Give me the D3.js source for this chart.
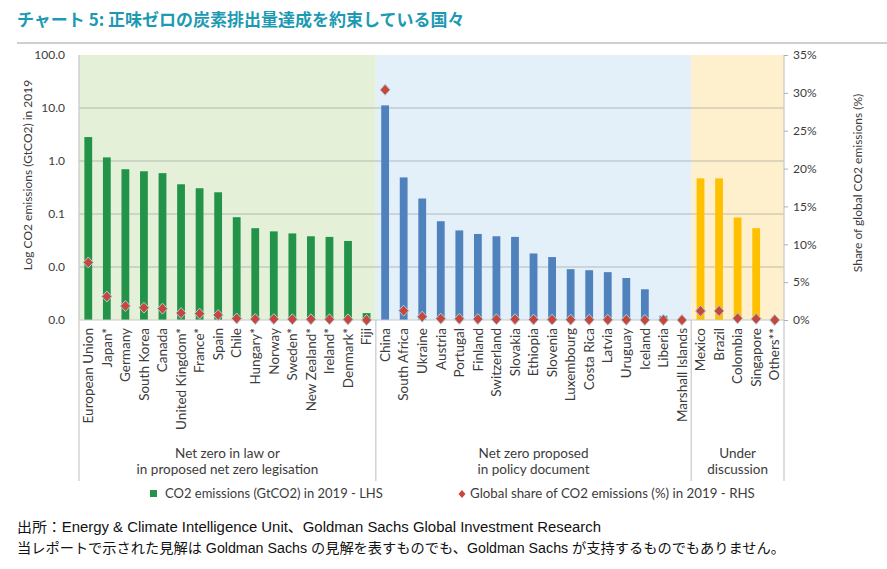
<!DOCTYPE html>
<html><head><meta charset="utf-8">
<script src="https://cdn.jsdelivr.net/npm/d3@7"></script>
<style>
body{margin:0;background:#fff;}
svg{display:block;}
text{font-family:Lato,"Noto Sans",sans-serif;fill:#3c3c3c;}
</style></head><body>
<svg id="c" width="887" height="569"></svg>
<script>
// ---------------- DATA ----------------
const titleText = "チャート 5: 正味ゼロの炭素排出量達成を約束している国々";
const countries1 = ["European Union","Japan*","Germany","South Korea","Canada","United Kingdom*","France*","Spain","Chile","Hungary*","Norway","Sweden*","New Zealand*","Ireland*","Denmark*","Fiji"];
const emissions1 = [2.83,1.17,0.70,0.64,0.59,0.364,0.306,0.257,0.087,0.054,0.047,0.043,0.038,0.037,0.031,0.00135];
const share1 = [7.6,3.1,1.85,1.63,1.5,0.92,0.84,0.66,0.2,0.13,0.12,0.1,0.1,0.1,0.08,0.0];

const countries2 = ["China","South Africa","Ukraine","Austria","Portugal","Finland","Switzerland","Slovakia","Ethiopia","Slovenia","Luxembourg","Costa Rica","Latvia","Uruguay","Iceland","Liberia","Marshall Islands"];
const emissions2 = [11.2,0.49,0.196,0.073,0.049,0.042,0.038,0.037,0.018,0.0154,0.0091,0.0087,0.008,0.0062,0.0038,0.0012,0.0002];
const share2 = [30.4,1.23,0.44,0.18,0.15,0.12,0.1,0.1,0.06,0.05,0.04,0.03,0.03,0.02,0.01,0.0,0.0];

const countries3 = ["Mexico","Brazil","Colombia","Singapore","Others**"];
const emissions3 = [0.47,0.47,0.086,0.054,null];
const share3 = [1.19,1.2,0.22,0.15,0.0];

const groupLabels = [["Net zero in law or","in proposed net zero legisation"],["Net zero proposed","in policy document"],["Under","discussion"]];
const leftTicks = [100,10,1,0.1,0.01,0.001];
const leftTickLabels = ["100.0","10.0","1.0","0.1","0.0","0.0"];
const rightTicks = [0,5,10,15,20,25,30,35];
const leftAxisTitle = "Log CO2 emissions (GtCO2) in 2019";
const rightAxisTitle = "Share of global CO2 emissions (%)";
const legendLabels = ["CO2 emissions (GtCO2) in 2019 - LHS","Global share of CO2 emissions (%) in 2019 - RHS"];
const footer1 = "出所：Energy & Climate Intelligence Unit、Goldman Sachs Global Investment Research";
const footer2 = "当レポートで示された見解は Goldman Sachs の見解を表すものでも、Goldman Sachs が支持するものでもありません。";

// ---------------- STYLE ----------------
const bgColors = ["#e4f0d8","#e3eff9","#fef0cc"];
const barColors = ["#23934a","#4f81bd","#ffc000"];
const diamondFill = "#c8463a";
const diamondStroke = "#a8cfe0";
const plot = {l:79, r:784, t:55, b:320};

const svg = d3.select("#c");
const groups = [
  {countries:countries1, emissions:emissions1, share:share1},
  {countries:countries2, emissions:emissions2, share:share2},
  {countries:countries3, emissions:emissions3, share:share3}
];
const data = [];
groups.forEach((g,gi)=>g.countries.forEach((c,i)=>data.push({c, e:g.emissions[i], s:g.share[i], g:gi})));
const all = data.map(d=>d.c);

const po = 0.29;
const x = d3.scaleBand().domain(all).range([plot.l, plot.r]).paddingInner(0.58).paddingOuter(po);
const step = x.step(), bw = x.bandwidth();
const y = d3.scaleLog().domain([0.001,100]).range([plot.b, plot.t]).clamp(true);
const y2 = d3.scaleLinear().domain([0,35]).range([plot.b, plot.t]);

// title
svg.append("text").attr("x",17).attr("y",26).text(titleText)
  .style("font-family","'Noto Sans CJK JP',sans-serif").style("font-weight","700")
  .style("font-size","17px").style("fill","#1d9ab3");
svg.append("line").attr("x1",17).attr("x2",887).attr("y1",43).attr("y2",43)
  .attr("stroke","#bfbfbf").attr("stroke-width",1.5);

// group backgrounds
const bounds = groups.map(g=>x(g.countries[0]) - step*po);
bounds.push(plot.r);
groups.forEach((g,gi)=>{
  svg.append("rect").attr("x",bounds[gi]).attr("y",plot.t)
    .attr("width",bounds[gi+1]-bounds[gi]).attr("height",plot.b-plot.t)
    .attr("fill",bgColors[gi]);
});

// gridlines
svg.append("g").selectAll("line").data(leftTicks.filter(v=>v>0.001 && v<100)).join("line")
  .attr("x1",plot.l).attr("x2",plot.r).attr("y1",d=>y(d)).attr("y2",d=>y(d))
  .attr("stroke","#7f8a86").attr("stroke-opacity",0.35).attr("stroke-width",1.4);

// bars
svg.append("g").selectAll("rect").data(data.filter(d=>d.e!=null)).join("rect")
  .attr("x",d=>x(d.c)).attr("width",bw)
  .attr("y",d=>y(d.e)).attr("height",d=>plot.b-y(d.e))
  .attr("fill",d=>barColors[d.g]);

// axis lines / separators
svg.append("line").attr("x1",plot.l).attr("x2",plot.r).attr("y1",plot.b).attr("y2",plot.b)
  .attr("stroke","#c8c8c8").attr("stroke-width",1.2);
const sepBottom = 481;
[plot.l, plot.r].forEach(v=>svg.append("line").attr("x1",v).attr("x2",v).attr("y1",plot.t).attr("y2",sepBottom)
  .attr("stroke","#c8c8c8").attr("stroke-width",1.2));
[bounds[1], bounds[2]].forEach(v=>svg.append("line").attr("x1",v).attr("x2",v).attr("y1",plot.b).attr("y2",sepBottom)
  .attr("stroke","#c8c8c8").attr("stroke-width",1.2));

// diamonds
const dPath = "M0,-5.5L5,0L0,5.5L-5,0Z";
svg.append("g").selectAll("path").data(data).join("path")
  .attr("d",dPath)
  .attr("transform",d=>`translate(${x(d.c)+bw/2},${y2(d.s)})`)
  .attr("fill",diamondFill).attr("stroke",diamondStroke).attr("stroke-width",1);

// left axis
const ax = svg.append("g").attr("transform",`translate(${plot.l},0)`)
  .call(d3.axisLeft(y).tickValues(leftTicks).tickFormat((d,i)=>leftTickLabels[i]).tickSize(0).tickPadding(14));
ax.select(".domain").remove();
ax.selectAll("text").style("font-size","12px").style("font-family","Lato,sans-serif").attr("fill","#3c3c3c");

// right axis
const ar = svg.append("g").attr("transform",`translate(${plot.r},0)`)
  .call(d3.axisRight(y2).tickValues(rightTicks).tickFormat(d=>d+"%").tickSize(4).tickPadding(5));
ar.select(".domain").remove();
ar.selectAll("line").attr("stroke","#b0b0b0");
ar.selectAll("text").style("font-size","12px").style("font-family","Lato,sans-serif").attr("fill","#3c3c3c");

// axis titles
svg.append("text").attr("transform","translate(28,175) rotate(-90)").attr("text-anchor","middle")
  .attr("dy","0.35em").style("font-size","12px").text(leftAxisTitle);
svg.append("text").attr("transform","translate(858,183) rotate(-90)").attr("text-anchor","middle")
  .attr("dy","0.35em").style("font-size","12px").text(rightAxisTitle);

// category labels
svg.append("g").selectAll("text").data(data).join("text")
  .attr("transform",d=>`translate(${x(d.c)+bw/2},328) rotate(-90)`)
  .attr("text-anchor","end").attr("dy","0.35em").style("font-size","13.5px").text(d=>d.c);

// group labels
groupLabels.forEach((lines,gi)=>{
  const cx = (bounds[gi]+bounds[gi+1])/2;
  lines.forEach((t,li)=>svg.append("text").attr("x",cx).attr("y",458+li*16)
    .attr("text-anchor","middle").style("font-size","13.5px").text(t));
});

// legend
svg.append("rect").attr("x",150).attr("y",490).attr("width",7).attr("height",7).attr("fill",barColors[0]);
svg.append("text").attr("x",165).attr("y",498).style("font-size","13px").text(legendLabels[0]);
svg.append("path").attr("d","M0,-4L3.5,0L0,4L-3.5,0Z").attr("transform","translate(462,494)").attr("fill",diamondFill);
svg.append("text").attr("x",470).attr("y",498).style("font-size","13.3px").text(legendLabels[1]);

// footer
svg.append("text").attr("x",17).attr("y",532).text(footer1)
  .style("font-family","'Liberation Sans','Noto Sans CJK JP',sans-serif").style("font-size","14px").style("fill","#111")
  .attr("textLength",584).attr("lengthAdjust","spacingAndGlyphs");
svg.append("text").attr("x",17).attr("y",553).text(footer2)
  .style("font-family","'Liberation Sans','Noto Sans CJK JP',sans-serif").style("font-size","14px").style("fill","#111")
  .attr("textLength",768).attr("lengthAdjust","spacingAndGlyphs");
</script>
</body></html>
